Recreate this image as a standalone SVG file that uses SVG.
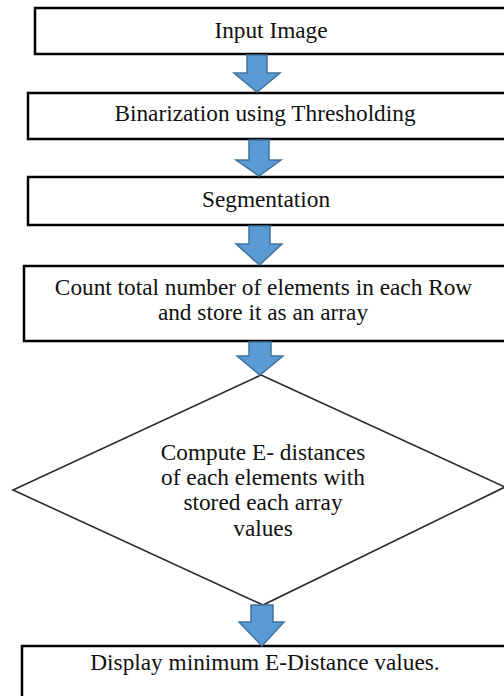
<svg xmlns="http://www.w3.org/2000/svg" width="504" height="696" viewBox="0 0 504 696">
<style>
.box{fill:#fff;stroke:#000;stroke-width:2.5}
.dia{fill:#fff;stroke:#2b2b2b;stroke-width:1.6}
.arr{fill:#5B9BD5;stroke:#41719C;stroke-width:1.5;stroke-linejoin:miter}
.t{font-family:"Liberation Serif","Times New Roman",serif;font-size:23.3px;fill:#111;text-anchor:middle}
</style>
<rect width="504" height="696" fill="#fff"/>
<g id="n1"><rect class="box" x="35" y="8" width="472" height="46"/><text class="t" x="271" y="38">Input Image</text></g>
<g id="n2"><rect class="box" x="28" y="93" width="479" height="46"/><text class="t" x="265" y="121">Binarization using Thresholding</text></g>
<g id="n3"><rect class="box" x="28" y="177" width="479" height="48"/><text class="t" x="266" y="207">Segmentation</text></g>
<g id="n4"><rect class="box" x="24" y="266" width="483" height="75"/><text class="t" x="263.5" y="295">Count total number of elements in each Row</text><text class="t" x="263" y="320">and store it as an array</text></g>
<g id="n5"><polygon class="dia" points="261,375 505,487 263,605 13,490"/><text class="t" x="263" y="460">Compute E- distances</text><text class="t" x="263" y="485">of each elements with</text><text class="t" x="263" y="510">stored each array</text><text class="t" x="263" y="536">values</text></g>
<g id="n6"><rect class="box" x="22" y="646" width="490" height="70"/><text class="t" x="265" y="670">Display minimum E-Distance values.</text></g>
<g id="connectors">
<path class="arr" d="M247,55 H267 V73 H280 L257,92 L234,73 H247 Z"/>
<path class="arr" d="M249,140 H269 V160 H281 L259,176 L236,160 H249 Z"/>
<path class="arr" d="M249,226 H270 V244 H282 L259.5,265 L236,244 H249 Z"/>
<path class="arr" d="M249,342 H271 V356 H283 L260,375 L237,356 H249 Z"/>
<path class="arr" d="M251,605 H273 V622 H284 L262,646 L239,622 H251 Z"/>
</g>
</svg>
